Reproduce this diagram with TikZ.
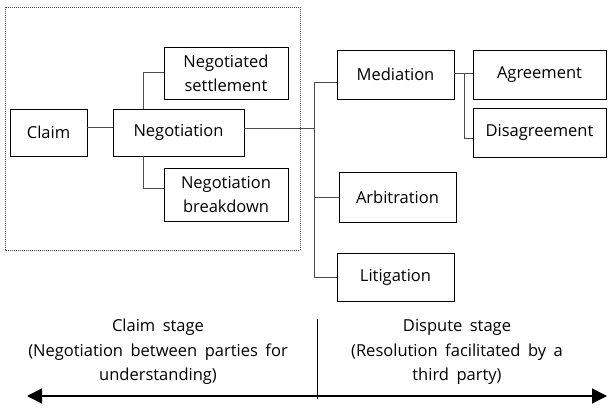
\documentclass[tikz,border=0pt]{standalone}
\usepackage{fontspec}
\setmainfont{Open Sans}
\usetikzlibrary{arrows.meta,shadows}
\newcommand{\mystagefont}{\fontsize{16.5}{24.5}\selectfont\spaceskip=7.5pt plus 1pt minus 1pt\relax}
\begin{document}
\begin{tikzpicture}[x=1pt,y=-1pt,
  box/.style={draw=black,line width=0.7pt,fill=white,align=center,inner sep=0pt,
    font=\fontsize{16.5}{24}\selectfont,
    drop shadow={shadow xshift=1.4pt,shadow yshift=-1.4pt,fill=black,opacity=1}},
  conn/.style={draw=black!70,line width=0.8pt},
  stagetext/.style={align=center,font=\mystagefont,inner sep=0pt}]
\useasboundingbox (0,0) rectangle (609,409);
% dashed frame
\draw[black!70,line width=0.6pt,dash pattern=on 1pt off 1pt] (5,7) rectangle (300,250);
% boxes
\node[box,minimum width=77pt,minimum height=47pt] (claim) at (48.5,132.5) {Claim};
\node[box,minimum width=131pt,minimum height=47pt] (neg) at (178.5,132.5) {Negotiation};
\node[box,minimum width=124pt,minimum height=52pt] (ns) at (226,73) {Negotiated\\settlement};
\node[box,minimum width=124pt,minimum height=53pt] (nb) at (226,194.5) {Negotiation\\breakdown};
\node[box,minimum width=117pt,minimum height=49pt] (med) at (395.5,74.5) {Mediation};
\node[box,minimum width=133pt,minimum height=49pt] (agr) at (539.5,74.5) {Agreement};
\node[box,minimum width=133pt,minimum height=49pt] (dis) at (539.5,132.5) {Disagreement};
\node[box,minimum width=117pt,minimum height=50pt] (arb) at (397.5,197) {Arbitration};
\node[box,minimum width=117pt,minimum height=48pt] (lit) at (395.5,277) {Litigation};
% trunk coordinates
\coordinate (ttop) at (314,82);
\coordinate (tbot) at (314,277);
\coordinate (nup) at (143,72);
\coordinate (ndown) at (143,188);
\coordinate (mtop) at (464,73);
\coordinate (mbot) at (464,138);
% connectors
\draw[conn] ([yshift=5.5pt]claim.east) -- ([yshift=5.5pt]neg.west);
\draw[conn] ([yshift=4.5pt]neg.east) -- ([yshift=4.5pt]neg.east -| ttop);
\draw[conn] (ttop) -- (tbot);
\draw[conn] (ttop) -- (ttop -| med.west);
\draw[conn] (ttop |- arb.west) -- (arb.west);
\draw[conn] (tbot) -- (lit.west);
\draw[conn] (nup |- neg.north) -- (nup) -- (nup -| ns.west);
\draw[conn] (ndown |- neg.south) -- (ndown) -- (ndown -| nb.west);
\draw[conn] (mtop -| med.east) -- (mtop -| agr.west);
\draw[conn] (mtop) -- (mbot) -- (mbot -| dis.west);
% bottom
\node[stagetext] (cs) at (158,352) {Claim stage\\(Negotiation between parties for\\understanding)};
\node[stagetext] (ds) at (457,352) {Dispute stage\\(Resolution facilitated by a\\third party)};
\coordinate (sep1) at (317,319);
\coordinate (sep2) at (317,399);
\draw[black,line width=0.8pt] (sep1) -- (sep2);
\coordinate (al) at (27,396);
\coordinate (ar) at (607,396);
\draw[black,line width=1.5pt,{Triangle[length=15pt,width=15pt]}-{Triangle[length=15pt,width=15pt]}] (al) -- (ar);
\end{tikzpicture}
\end{document}
